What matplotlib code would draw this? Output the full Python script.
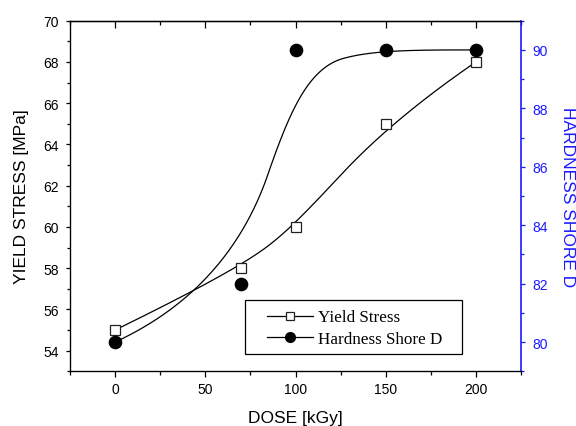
import numpy as np
import matplotlib
matplotlib.use("Agg")
import matplotlib.pyplot as plt
from matplotlib.lines import Line2D
from matplotlib.patches import Rectangle

dose = [0, 70, 100, 150, 200]
yield_stress = [55, 58, 60, 65, 68]
hardness = [80, 82, 90, 90, 90]

x_ticks = [0, 50, 100, 150, 200]
x_minor = [-25, 25, 75, 125, 175, 225]
left_ticks = [54, 56, 58, 60, 62, 64, 66, 68, 70]
right_ticks = [80, 82, 84, 86, 88, 90]


def bspline(xs, ys, k, n=400):
    # clamped uniform B-spline using the data points as control points
    P = np.column_stack([xs, ys]).astype(float)
    m = len(P)
    inner = np.arange(1, m - k)
    knots = np.concatenate([[0] * (k + 1), inner, [m - k] * (k + 1)]).astype(float)
    us = np.linspace(0, m - k, n)

    def basis(i, p, u):
        if p == 0:
            if knots[i] <= u < knots[i + 1]:
                return 1.0
            if u == knots[-1] and knots[i] < u <= knots[i + 1]:
                return 1.0
            return 0.0
        a = 0.0
        d1 = knots[i + p] - knots[i]
        if d1 > 0:
            a = (u - knots[i]) / d1 * basis(i, p - 1, u)
        b = 0.0
        d2 = knots[i + p + 1] - knots[i + 1]
        if d2 > 0:
            b = (knots[i + p + 1] - u) / d2 * basis(i + 1, p - 1, u)
        return a + b

    return np.array([np.array([basis(i, k, u) for i in range(m)]) @ P for u in us])


def smooth_connect(xs, ys):
    c = 0.5 * (bspline(xs, ys, 2) + bspline(xs, ys, 3))
    return c[:, 0], c[:, 1]


plt.rcParams['font.family'] = ['Liberation Sans', 'DejaVu Sans']

fig = plt.figure(figsize=(5.76, 4.27), dpi=100)
ax = fig.add_axes([70 / 576, 1 - 372.3 / 427, (521 - 70) / 576, (372.3 - 21.7) / 427])
ax2 = ax.twinx()

blue = '#1a1aff'

# Yield stress
bx, by = smooth_connect(dose, yield_stress)
ax.plot(bx, by, color='black', lw=0.9, zorder=2)
ax.plot(dose, yield_stress, ls='none', marker='s', ms=7.8, mfc='white',
        mec='#222222', mew=0.9, zorder=3)

# Hardness
hx, hy = smooth_connect(dose, hardness)
ax2.plot(hx, hy, color='black', lw=0.9, zorder=2)
ax2.plot(dose, hardness, ls='none', marker='o', ms=8.8, mfc='black',
         mec='black', zorder=3)

ax.set_xlim(-25, 225)
ax.set_ylim(53, 70)
ax2.set_ylim(79, 91)

ax.set_xticks(x_ticks)
ax.set_xticks(x_minor, minor=True)
ax.set_yticks(left_ticks)
ax.set_yticks(np.arange(53, 71, 1), minor=True)
ax2.set_yticks(right_ticks)
ax2.set_yticks(np.arange(79, 92, 1), minor=True)

ax.tick_params(axis='x', which='major', direction='out', length=4.3, width=0.9,
               labelsize=10, pad=3.5, top=False)
ax.tick_params(axis='x', which='minor', direction='out', length=2.9, width=0.9, top=False)
ax.tick_params(axis='y', which='major', direction='out', length=3.1, width=0.9,
               labelsize=10, pad=5, right=False)
ax.tick_params(axis='y', which='minor', direction='out', length=1.9, width=0.9, right=False)

sec = ax.secondary_xaxis('top')
sec.set_xticks(x_ticks)
sec.set_xticks(x_minor, minor=True)
sec.tick_params(axis='x', which='major', direction='in', length=4.8, width=0.9, labeltop=False)
sec.tick_params(axis='x', which='minor', direction='in', length=2.6, width=0.9)
sec.spines['top'].set_linewidth(0.9)

ax2.tick_params(axis='y', which='major', direction='out', length=2.9, width=0.9,
                labelsize=10, pad=5, colors=blue)
ax2.tick_params(axis='y', which='minor', direction='out', length=2.0, width=0.9, colors=blue)
ax2.spines['right'].set_color(blue)
ax2.spines['right'].set_linewidth(1.2)
for s in ['left', 'bottom', 'top']:
    ax.spines[s].set_linewidth(0.9)
ax.spines['right'].set_visible(False)

ax.set_xlabel('DOSE [kGy]', fontsize=12.5, labelpad=10)
ax.set_ylabel('YIELD STRESS [MPa]', fontsize=12.5, labelpad=10)
ax2.set_ylabel('HARDNESS SHORE D', fontsize=12.5, color=blue, rotation=-90, labelpad=20)

# Legend box and entries
box = Rectangle(((245 - 70) / 451, (372.3 - 355) / 350.6), (462 - 245) / 451, 54 / 350.6,
                transform=ax2.transAxes, facecolor='white', edgecolor='black', lw=0.9,
                zorder=6)
ax2.add_patch(box)
h1 = Line2D([], [], color='black', lw=0.9, marker='s', ms=5.2, mfc='white', mec='#222222', mew=0.9)
h2 = Line2D([], [], color='black', lw=0.9, marker='o', ms=7, mfc='black', mec='black')
leg = ax2.legend([h1, h2], ['Yield Stress', 'Hardness Shore D'],
                 loc='upper left',
                 bbox_to_anchor=((266.7 - 70) / 451, (372.3 - 310.5) / 350.6),
                 frameon=False,
                 prop={'family': 'Liberation Serif', 'size': 12.3}, handlelength=2.7,
                 borderaxespad=0, borderpad=0, handletextpad=0.33, labelspacing=0.3)
leg.set_zorder(7)

fig.savefig('out.png', dpi=100)
